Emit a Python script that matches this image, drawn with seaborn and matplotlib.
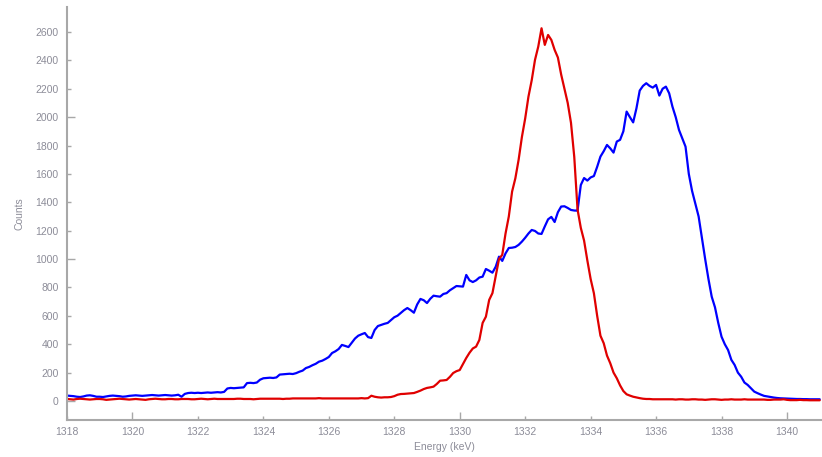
import numpy as np
import pandas as pd
import matplotlib
matplotlib.use("Agg")
import matplotlib.pyplot as plt
from matplotlib.ticker import FixedLocator, FormatStrFormatter
import seaborn as sns

# Spectrum channels: 0.1 keV bins starting at 1318 keV
e_start = 1318.0
e_step = 0.1

blue_counts = [
    38, 36, 34, 30, 28, 32, 38, 40, 36, 30,
    30, 28, 32, 36, 38, 36, 34, 30, 32, 36,
    38, 40, 38, 36, 38, 40, 42, 40, 38, 40,
    42, 40, 38, 40, 44, 30, 50, 56, 58, 56,
    58, 56, 58, 60, 58, 60, 62, 60, 64, 88,
    92, 90, 92, 94, 96, 126, 128, 126, 130, 150,
    160, 162, 164, 162, 166, 186, 188, 190, 192, 190,
    196, 206, 214, 232, 240, 252, 262, 277, 284, 296,
    310, 338, 350, 366, 395, 388, 380, 410, 440, 460,
    470, 479, 450, 444, 500, 528, 536, 544, 550, 570,
    590, 601, 620, 640, 655, 640, 622, 680, 719, 710,
    690, 720, 742, 738, 735, 754, 760, 780, 795, 810,
    808, 806, 888, 850, 838, 850, 870, 876, 930, 918,
    904, 946, 1017, 987, 1040, 1078, 1080, 1085, 1100, 1123,
    1150, 1180, 1205, 1198, 1180, 1177, 1230, 1280, 1297, 1261,
    1330, 1370, 1372, 1360, 1346, 1342, 1341, 1522, 1571, 1553,
    1575, 1585, 1650, 1722, 1760, 1804, 1780, 1750, 1828, 1840,
    1900, 2039, 2000, 1963, 2062, 2187, 2220, 2239, 2220, 2208,
    2227, 2152, 2200, 2215, 2168, 2074, 2000, 1910, 1850, 1792,
    1600, 1480, 1390, 1300, 1150, 1000, 860, 735, 660, 550,
    453, 400, 359, 290, 254, 200, 171, 130, 113, 90,
    66, 55, 45, 36, 32, 28, 24, 21, 19, 18,
    17, 16, 15, 14, 14, 13, 13, 12, 12, 12,
    12,
]

red_counts = [
    14, 12, 10, 14, 16, 14, 12, 10, 12, 14,
    14, 12, 8, 10, 12, 14, 16, 14, 12, 10,
    12, 14, 12, 10, 8, 12, 14, 16, 14, 12,
    12, 14, 14, 12, 12, 14, 14, 14, 12, 12,
    14, 16, 14, 12, 14, 16, 14, 14, 14, 14,
    14, 14, 16, 16, 14, 14, 14, 12, 14, 16,
    16, 16, 16, 16, 16, 16, 14, 16, 16, 18,
    18, 18, 18, 18, 18, 18, 18, 20, 18, 18,
    18, 18, 18, 18, 18, 18, 18, 18, 18, 18,
    20, 18, 20, 37, 30, 26, 24, 26, 26, 28,
    34, 44, 49, 50, 52, 54, 56, 64, 73, 84,
    92, 96, 101, 120, 143, 145, 148, 170, 197, 210,
    218, 260, 303, 340, 370, 383, 430, 550, 594, 712,
    760, 880, 1000, 1030, 1180, 1300, 1475, 1569, 1700, 1860,
    1990, 2144, 2260, 2403, 2497, 2626, 2509, 2579, 2544, 2474,
    2420, 2300, 2200, 2100, 1960, 1720, 1350, 1220, 1130, 990,
    860, 759, 600, 460, 407, 320, 266, 200, 160, 110,
    70, 47, 38, 30, 25, 20, 16, 14, 14, 12,
    12, 12, 12, 12, 12, 12, 10, 12, 12, 10,
    10, 12, 12, 10, 10, 8, 10, 12, 12, 10,
    8, 10, 10, 12, 10, 10, 10, 12, 10, 10,
    10, 10, 10, 10, 8, 8, 10, 10, 10, 12,
    8, 6, 6, 6, 8, 6, 6, 5, 5, 5,
    5,
]

x_ticks = [1318, 1320, 1322, 1324, 1326, 1328, 1330, 1332, 1334, 1336, 1338, 1340]
y_ticks = [0, 200, 400, 600, 800, 1000, 1200, 1400, 1600, 1800, 2000, 2200, 2400, 2600]

energy = e_start + e_step * np.arange(len(blue_counts))
df = pd.concat([
    pd.DataFrame({"Energy": energy, "Counts": blue_counts, "Series": "blue"}),
    pd.DataFrame({"Energy": energy, "Counts": red_counts, "Series": "red"}),
])

sns.set_style("white")
plt.rcParams["font.family"] = ["Liberation Sans", "DejaVu Sans"]

grey = "#a8a8a8"
text_grey = "#8c8c98"

fig = plt.figure(figsize=(8.22, 4.57), dpi=100)
ax = fig.add_axes([67 / 822, 1 - 420 / 457, 1 - 67 / 822, (420 - 7) / 457])

sns.lineplot(data=df, x="Energy", y="Counts", hue="Series",
             palette={"blue": "#0000ff", "red": "#e00000"},
             linewidth=1.6, legend=False, ax=ax, estimator=None)

ax.set_xlim(1318, 1341.07)
ax.set_ylim(-134, 2776)

# Long ticks at round decades, short labelled ticks in between
ax.xaxis.set_major_locator(FixedLocator([1320, 1330, 1340]))
ax.xaxis.set_minor_locator(FixedLocator(x_ticks))
ax.yaxis.set_major_locator(FixedLocator([0, 1000, 2000]))
ax.yaxis.set_minor_locator(FixedLocator(y_ticks))
ax.xaxis.set_minor_formatter(FormatStrFormatter("%d"))
ax.yaxis.set_minor_formatter(FormatStrFormatter("%d"))

for which, length in (("major", 6), ("minor", 3)):
    ax.tick_params(axis="both", which=which, direction="in", length=length,
                   width=1, color=grey, labelsize=7.5, labelcolor=text_grey,
                   left=True, bottom=True)
ax.tick_params(axis="y", which="both", pad=6)
ax.tick_params(axis="x", which="both", pad=5)

for side in ("top", "right"):
    ax.spines[side].set_visible(False)
for side in ("left", "bottom"):
    ax.spines[side].set_color(grey)
    ax.spines[side].set_linewidth(1.5)

ax.set_xlabel("Energy (keV)", fontsize=7.5, color=text_grey, labelpad=4)
ax.set_ylabel("Counts", fontsize=7.5, color=text_grey, labelpad=8)

fig.savefig("out.png", dpi=100)
